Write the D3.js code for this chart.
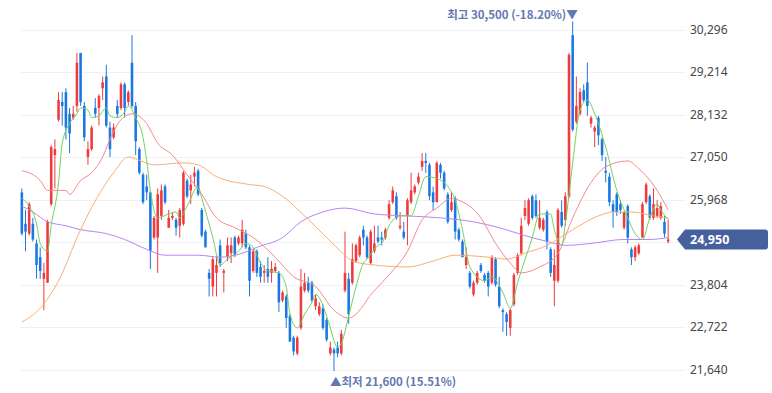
<!DOCTYPE html>
<html>
<head>
<meta charset="utf-8">
<script src="https://cdn.jsdelivr.net/npm/d3@7"></script>
<style>
  html, body { margin: 0; padding: 0; background: #fff; }
  svg { display: block; }
</style>
</head>
<body>
<svg id="chart"></svg>
<script>
// daily candles (won)
const opens = [
  26150, 25350, 25100, 25350, 24850, 24500, 23950, 23850, 25850, 27100,
  28000, 28450, 28700, 28150, 28050, 28350, 29700, 28350, 27050, 27250,
  28300, 28300, 28800, 29100, 27800, 27550, 28350, 28300, 28900, 28450,
  29450, 28350, 27250, 26600, 26300, 26150, 25000, 25000, 25550, 26300,
  25250, 25500, 25450, 25300, 25350, 26450, 26200, 26550, 26700, 25700,
  25150, 24100, 23750, 24100, 24800, 24100, 24500, 24600, 25000, 24850,
  24850, 25100, 24750, 24150, 24650, 24250, 24100, 24200, 24100, 24150,
  24100, 23400, 23500, 23000, 22450, 22050, 22700, 23650, 23850, 23850,
  23250, 23050, 23200, 22900, 22050, 22150, 22200, 22050, 23650, 23950,
  23850, 24400, 24550, 25200, 25000, 24350, 24650, 25000, 25000, 25000,
  25500, 25900, 26050, 25250, 25150, 25550, 25900, 26150, 26400, 26800,
  26950, 26850, 26150, 25900, 26850, 26650, 26100, 25700, 26000, 25200,
  24900, 24300, 24100, 23550, 23850, 24300, 24050, 24100, 23850, 24450,
  23750, 23150, 23050, 22700, 23300, 24100, 24600, 25550, 25350, 26050,
  25950, 25250, 25200, 25650, 24700, 23900, 23900, 25650, 25450, 26050,
  30150, 27950, 28150, 28750, 28950, 27900, 27700, 28050, 27500, 26700,
  26550, 25850, 26100, 25850, 25250, 25800, 24700, 24500, 24600, 25000,
  25900, 26050, 25500, 25550, 25500, 25400, 24900
];
const highs = [
  26250, 25700, 25900, 25500, 24950, 24750, 24350, 25450, 27350, 27500,
  28700, 28700, 28800, 28300, 28350, 29700, 29700, 28450, 27450, 27850,
  28550, 28650, 29100, 29400, 27950, 27900, 28500, 28950, 28950, 28750,
  30150, 28450, 27300, 26650, 26600, 26200, 25550, 26250, 26350, 26350,
  25700, 25650, 25500, 25750, 26700, 26500, 26600, 26800, 26750, 25750,
  25200, 24200, 24500, 24550, 24950, 24200, 25000, 25000, 25050, 25050,
  25450, 25200, 24800, 24700, 24700, 24400, 24300, 24500, 24400, 24350,
  24150, 23650, 23550, 23050, 22500, 22500, 24200, 24100, 24000, 23900,
  23550, 23350, 23300, 22950, 22350, 22200, 22350, 22650, 25150, 24100,
  24850, 24850, 25050, 25300, 25050, 25200, 25300, 25300, 25150, 25250,
  25950, 26300, 26150, 25650, 25400, 26000, 26650, 26350, 26650, 27150,
  27150, 26900, 26300, 26950, 26900, 26700, 26150, 26150, 26050, 25250,
  24950, 24750, 24150, 23900, 24150, 24350, 24100, 24150, 24550, 24500,
  24000, 23200, 23100, 23200, 24100, 24600, 25500, 25950, 26000, 26100,
  26100, 25950, 25500, 25700, 24750, 24700, 25750, 25950, 26150, 29700,
  30500, 29100, 28800, 28900, 29450, 28100, 27850, 28100, 27550, 27050,
  26650, 25950, 26150, 25950, 25650, 25850, 24750, 24800, 24850, 25900,
  26400, 26100, 26250, 25950, 25900, 25550, 25450
];
const lows = [
  25050, 24650, 25050, 24900, 23950, 23950, 23150, 23850, 25800, 26250,
  27950, 27850, 27500, 27150, 28000, 28200, 28350, 27450, 26850, 27200,
  28050, 27850, 28500, 27800, 27050, 27500, 28050, 28250, 28050, 28350,
  28300, 27100, 26600, 25850, 25950, 24200, 24950, 24100, 25450, 25850,
  25250, 25450, 25050, 25000, 25300, 26000, 25850, 26300, 26050, 25000,
  24750, 23500, 23500, 23500, 24250, 23600, 24400, 24350, 24500, 24800,
  24750, 24700, 23500, 24100, 24000, 23850, 23850, 23850, 23850, 24100,
  23100, 23350, 22700, 22350, 22000, 22000, 22650, 23600, 23600, 23350,
  23150, 23000, 22650, 22350, 22000, 21600, 21950, 22000, 23600, 22800,
  23800, 24350, 24500, 24800, 24450, 24300, 24600, 24850, 24800, 24950,
  25450, 25850, 25450, 25200, 24950, 24800, 25850, 26100, 26350, 26700,
  26650, 25950, 25700, 25900, 26500, 26200, 25350, 25650, 24950, 24900,
  24500, 24200, 23700, 23500, 23800, 24100, 23850, 23500, 23800, 23750,
  23200, 22600, 22500, 22500, 23250, 24050, 24550, 25450, 25300, 25450,
  25500, 25200, 25150, 24700, 24000, 23250, 23850, 25250, 25300, 26000,
  27700, 27900, 28100, 28450, 28100, 27800, 27300, 27350, 26950, 26400,
  25800, 25250, 25550, 25600, 25200, 24850, 24300, 24400, 24550, 25000,
  25850, 25450, 25450, 25500, 25450, 25000, 24850
];
const closes = [
  25100, 25150, 25850, 24950, 24300, 24150, 24100, 25400, 27300, 27250,
  28500, 28350, 27800, 27650, 28150, 29450, 28450, 27550, 27250, 27800,
  28150, 28600, 28950, 27850, 27250, 27800, 28150, 28900, 28300, 28700,
  28350, 27450, 26650, 25900, 26150, 24650, 25500, 26100, 26200, 25900,
  25500, 25550, 25250, 25700, 26650, 26050, 26350, 26650, 26100, 25050,
  24750, 23950, 24450, 24300, 24350, 24150, 24800, 24800, 24550, 25000,
  25200, 24750, 23900, 24650, 24100, 24000, 24150, 24000, 24200, 24250,
  23350, 23600, 22950, 22350, 22100, 22450, 23750, 23850, 23650, 23400,
  23450, 23250, 22700, 22400, 22200, 22050, 22050, 22550, 24100, 23050,
  24450, 24800, 25000, 25000, 24500, 25150, 24850, 24900, 24950, 25200,
  25850, 26200, 25500, 25300, 25000, 25950, 26200, 26300, 26550, 26950,
  26900, 26050, 25900, 26900, 26650, 26250, 25400, 25900, 25150, 24950,
  24500, 24500, 23750, 23850, 24100, 24150, 23900, 23750, 24500, 23800,
  23250, 23100, 22850, 23150, 24050, 24550, 25300, 25750, 25950, 25500,
  25550, 25500, 25450, 24900, 24100, 24300, 25700, 25300, 26050, 29650,
  27750, 28350, 28700, 28500, 28350, 28050, 27800, 27600, 27100, 26650,
  25900, 25650, 25650, 25700, 25650, 25000, 24500, 24750, 24800, 25850,
  26350, 25500, 25850, 25750, 25800, 25100, 24950
];

// moving averages, [candle index, value] read at sample points
const ma5 = [
  [0, 26000], [2, 25800], [4, 25350], [5, 24850], [7, 24650], [8, 25300], [10, 26400], [11, 27400],
  [13, 27900], [15, 28150], [16, 28300], [18, 28250], [19, 28050], [21, 28100], [23, 28300], [24, 28100],
  [26, 28050], [28, 28200], [29, 28350], [31, 28050], [33, 27550], [34, 26950], [35, 26200], [37, 25500],
  [40, 25600], [42, 25650], [43, 25500], [45, 25800], [48, 26300], [49, 26000], [52, 25000], [54, 24300],
  [56, 24450], [59, 24650], [61, 24850], [63, 24750], [65, 24350], [67, 24150], [70, 24100], [72, 23750],
  [73, 23050], [75, 22700], [77, 23050], [79, 23350], [80, 23550], [83, 23000], [84, 22700], [86, 22200],
  [87, 22300], [89, 23000], [91, 23750], [93, 24350], [94, 24450], [97, 24800], [98, 24850], [100, 25300],
  [103, 25550], [106, 25550], [108, 26050], [110, 26550], [113, 26500], [116, 26300], [118, 25950], [120, 25200],
  [122, 24250], [126, 23900], [128, 24000], [131, 23600], [133, 23200], [135, 23850], [139, 25000], [141, 25600],
  [144, 25600], [145, 25200], [147, 24800], [148, 25350], [150, 26900], [152, 28250], [154, 28500], [156, 28150],
  [159, 27300], [162, 26200], [165, 25500], [167, 25100], [169, 24950], [171, 25500], [173, 25850], [174, 25700],
  [176, 25450]
];
const ma20 = [
  [0, 26700], [2, 26650], [5, 26450], [7, 26200], [12, 26200], [13, 26100], [16, 26450], [19, 26650],
  [22, 27050], [24, 27500], [27, 28000], [30, 28150], [34, 27900], [37, 27400], [41, 27100], [45, 26600],
  [49, 26100], [53, 25500], [58, 25250], [63, 25000], [69, 24500], [74, 24000], [80, 23750], [85, 23150],
  [89, 22950], [96, 23650], [100, 24050], [105, 24650], [109, 25450], [113, 25750], [117, 26000], [119, 25950],
  [125, 25500], [129, 24850], [133, 24350], [136, 24100], [141, 24250], [146, 24600], [150, 25500], [155, 26400],
  [159, 26800], [165, 26950], [168, 26750], [173, 26200], [176, 25700]
];
const ma60 = [
  [0, 22850], [5, 23200], [10, 23900], [16, 25200], [22, 26250], [25, 26650], [29, 27050], [31, 27000],
  [36, 26850], [44, 26900], [48, 26850], [53, 26550], [62, 26350], [66, 26300], [71, 26050], [77, 25550],
  [83, 25000], [88, 24550], [90, 24400], [96, 24300], [105, 24250], [112, 24400], [118, 24550], [127, 24500],
  [132, 24450], [137, 24600], [143, 24800], [150, 25200], [157, 25550], [161, 25650], [166, 25650], [172, 25550],
  [176, 25500]
];
const ma120 = [
  [0, 25800], [3, 25650], [7, 25400], [12, 25300], [16, 25200], [23, 25100], [28, 24950], [34, 24700],
  [39, 24550], [48, 24550], [54, 24500], [60, 24600], [64, 24750], [71, 25000], [76, 25400], [82, 25650],
  [88, 25750], [96, 25600], [105, 25550], [114, 25500], [123, 25400], [130, 25250], [137, 25050], [143, 24900],
  [148, 24800], [155, 24850], [164, 24950], [171, 24950], [176, 25000]
];

const yTicks = [21640, 22722, 23804, 24886, 25968, 27050, 28132, 29214, 30296];

const width = 772;
const height = 393;
const upColor = '#ef3b3b';
const downColor = '#1b78e2';

const svg = d3.select('#chart').attr('width', width).attr('height', height);

const n = closes.length;
const x = d3.scaleBand().domain(d3.range(n)).range([20, 670]).paddingInner(0.3).paddingOuter(0.15);
const y = d3.scaleLinear().domain([21640, 30296]).range([369.5, 29.5]);
const cx = (i) => x(i) + x.bandwidth() / 2;

const last = closes[n - 1];
const ty = y(last);

// grid
svg.append('g')
  .attr('class', 'grid')
  .selectAll('line')
  .data(yTicks)
  .enter()
  .append('line')
  .attr('x1', 20)
  .attr('x2', 685)
  .attr('y1', (d) => Math.round(y(d)) + 0.5)
  .attr('y2', (d) => Math.round(y(d)) + 0.5)
  .attr('stroke', '#eff1f4')
  .attr('stroke-width', 1);

// right axis labels (the one under the price tag is hidden)
const axis = d3.axisRight(y)
  .tickValues(yTicks.filter((d) => Math.abs(y(d) - ty) > 12))
  .tickSize(0)
  .tickPadding(0)
  .tickFormat(d3.format(','));
const axisG = svg.append('g').attr('transform', 'translate(690,0)').call(axis);
axisG.select('.domain').remove();
axisG.selectAll('text')
  .attr('fill', '#474747')
  .style('font-family', '"Noto Sans", sans-serif')
  .style('font-size', '12px');

// moving averages
const maLine = d3.line()
  .x((d) => cx(d[0]))
  .y((d) => y(d[1]))
  .curve(d3.curveMonotoneX);

const mas = [
  { data: ma120, color: '#b884f4' },
  { data: ma60, color: '#f8b074' },
  { data: ma20, color: '#f48a8a' },
  { data: ma5, color: '#6fd263' },
];

// candles
const candles = d3.range(n).map((i) => ({
  i,
  o: opens[i],
  h: highs[i],
  l: lows[i],
  c: closes[i],
}));

const candleG = svg.append('g').attr('class', 'candles');
const g = candleG.selectAll('g.candle')
  .data(candles)
  .enter()
  .append('g')
  .attr('class', 'candle');

g.append('line')
  .attr('x1', (d) => cx(d.i))
  .attr('x2', (d) => cx(d.i))
  .attr('y1', (d) => y(d.h))
  .attr('y2', (d) => y(d.l))
  .attr('stroke', (d) => (d.c >= d.o ? upColor : downColor))
  .attr('stroke-width', 1);

g.append('rect')
  .attr('x', (d) => x(d.i))
  .attr('width', x.bandwidth())
  .attr('y', (d) => y(Math.max(d.o, d.c)))
  .attr('height', (d) => Math.max(1, Math.abs(y(d.o) - y(d.c))))
  .attr('fill', (d) => (d.c >= d.o ? upColor : downColor));

svg.append('g')
  .attr('class', 'ma')
  .selectAll('path')
  .data(mas)
  .enter()
  .append('path')
  .attr('d', (d) => maLine(d.data))
  .attr('fill', 'none')
  .attr('stroke', (d) => d.color)
  .attr('stroke-width', 1);

// high / low markers
const hiIdx = d3.maxIndex(highs);
const loIdx = d3.minIndex(lows);
const pct = (v) => v.toFixed(2);
const labelColor = '#6477b3';

svg.append('text')
  .attr('x', cx(hiIdx) + 5)
  .attr('y', 19)
  .attr('text-anchor', 'end')
  .attr('fill', labelColor)
  .style('font-family', '"Noto Sans CJK KR", sans-serif')
  .style('font-size', '11.5px')
  .style('font-weight', 'bold')
  .text(`최고 ${d3.format(',')(highs[hiIdx])} (${pct((last / highs[hiIdx] - 1) * 100)}%)▼`);

svg.append('text')
  .attr('x', cx(loIdx) - 4)
  .attr('y', 386)
  .attr('text-anchor', 'start')
  .attr('fill', labelColor)
  .style('font-family', '"Noto Sans CJK KR", sans-serif')
  .style('font-size', '11.5px')
  .style('font-weight', 'bold')
  .text(`▲최저 ${d3.format(',')(lows[loIdx])} (${pct((last / lows[loIdx] - 1) * 100)}%)`);

// current price tag
svg.append('path')
  .attr('d', `M677,${ty} L685,${ty - 10} H765 Q768,${ty - 10} 768,${ty - 7} V${ty + 7} Q768,${ty + 10} 765,${ty + 10} H685 Z`)
  .attr('fill', '#45609c');

svg.append('text')
  .attr('x', 690)
  .attr('y', ty)
  .attr('dy', '0.35em')
  .attr('fill', '#fff')
  .style('font-family', '"Noto Sans", sans-serif')
  .style('font-size', '12.5px')
  .style('font-weight', 'bold')
  .text(d3.format(',')(last));
</script>
</body>
</html>
